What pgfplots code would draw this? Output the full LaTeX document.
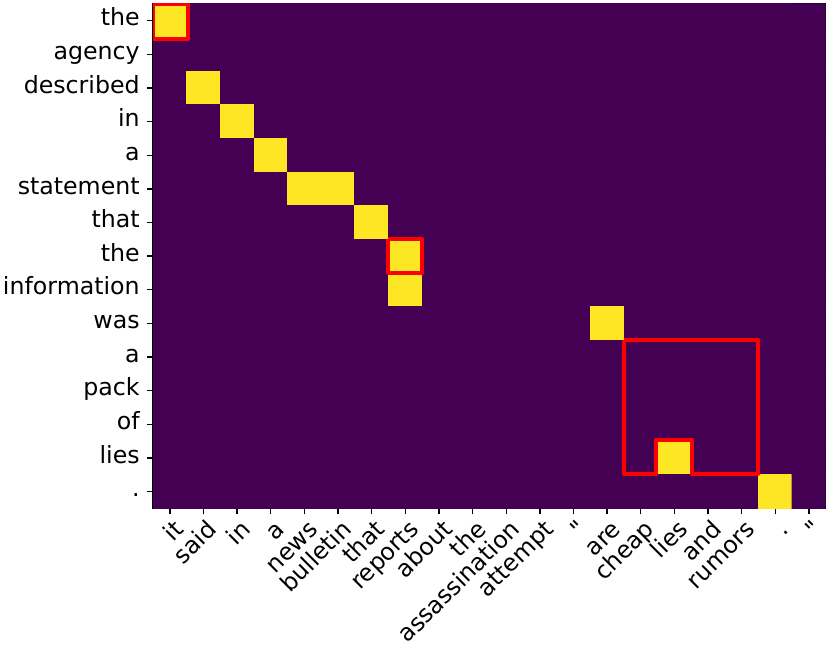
\documentclass[border=0pt]{standalone}
\usepackage{pgfplots}
\pgfplotsset{compat=1.18}
\usepackage{fontspec}
\setmainfont{DejaVu Sans}[Ligatures=TeXOff]
\definecolor{vpurple}{RGB}{68,1,84}
\definecolor{vyellow}{RGB}{253,231,37}
\begin{document}
\begin{tikzpicture}
\begin{axis}[
  scale only axis,
  width=336.5pt, height=252.5pt,
  xmin=-0.5, xmax=19.5, ymin=-0.5, ymax=14.5,
  y dir=reverse,
  axis background/.style={fill=vpurple},
  axis line style={line width=0.8pt, black},
  tick align=outside,
  xtick pos=left, ytick pos=left,
  major tick length=3pt,
  tick style={line width=0.7pt, black},
  xtick={0,...,19},
  ytick={0,...,14},
  xticklabels={it,said,in,a,news,bulletin,that,reports,about,the,assassination,attempt,{"},are,cheap,lies,and,rumors,.,{"}},
  yticklabels={the,agency,described,in,a,statement,that,the,information,was,a,pack,of,lies,.},
  ticklabel style={font=\fontsize{11.85}{14}\selectfont, inner sep=0pt, text height=0.76em, text depth=0.24em},
  xticklabel style={xshift=2pt, yshift=-2.5pt, rotate=45, anchor=north east},
  yticklabel style={xshift=-3.5pt, anchor=east},
  colormap={vir}{rgb255=(68,1,84) rgb255=(253,231,37)},
  point meta min=0, point meta max=1,
]
\addplot[matrix plot*, mesh/cols=20, point meta=explicit, shader=flat corner] coordinates {
(0,0)[1] (1,0)[0] (2,0)[0] (3,0)[0] (4,0)[0] (5,0)[0] (6,0)[0] (7,0)[0] (8,0)[0] (9,0)[0] (10,0)[0] (11,0)[0] (12,0)[0] (13,0)[0] (14,0)[0] (15,0)[0] (16,0)[0] (17,0)[0] (18,0)[0] (19,0)[0]
(0,1)[0] (1,1)[0] (2,1)[0] (3,1)[0] (4,1)[0] (5,1)[0] (6,1)[0] (7,1)[0] (8,1)[0] (9,1)[0] (10,1)[0] (11,1)[0] (12,1)[0] (13,1)[0] (14,1)[0] (15,1)[0] (16,1)[0] (17,1)[0] (18,1)[0] (19,1)[0]
(0,2)[0] (1,2)[1] (2,2)[0] (3,2)[0] (4,2)[0] (5,2)[0] (6,2)[0] (7,2)[0] (8,2)[0] (9,2)[0] (10,2)[0] (11,2)[0] (12,2)[0] (13,2)[0] (14,2)[0] (15,2)[0] (16,2)[0] (17,2)[0] (18,2)[0] (19,2)[0]
(0,3)[0] (1,3)[0] (2,3)[1] (3,3)[0] (4,3)[0] (5,3)[0] (6,3)[0] (7,3)[0] (8,3)[0] (9,3)[0] (10,3)[0] (11,3)[0] (12,3)[0] (13,3)[0] (14,3)[0] (15,3)[0] (16,3)[0] (17,3)[0] (18,3)[0] (19,3)[0]
(0,4)[0] (1,4)[0] (2,4)[0] (3,4)[1] (4,4)[0] (5,4)[0] (6,4)[0] (7,4)[0] (8,4)[0] (9,4)[0] (10,4)[0] (11,4)[0] (12,4)[0] (13,4)[0] (14,4)[0] (15,4)[0] (16,4)[0] (17,4)[0] (18,4)[0] (19,4)[0]
(0,5)[0] (1,5)[0] (2,5)[0] (3,5)[0] (4,5)[1] (5,5)[1] (6,5)[0] (7,5)[0] (8,5)[0] (9,5)[0] (10,5)[0] (11,5)[0] (12,5)[0] (13,5)[0] (14,5)[0] (15,5)[0] (16,5)[0] (17,5)[0] (18,5)[0] (19,5)[0]
(0,6)[0] (1,6)[0] (2,6)[0] (3,6)[0] (4,6)[0] (5,6)[0] (6,6)[1] (7,6)[0] (8,6)[0] (9,6)[0] (10,6)[0] (11,6)[0] (12,6)[0] (13,6)[0] (14,6)[0] (15,6)[0] (16,6)[0] (17,6)[0] (18,6)[0] (19,6)[0]
(0,7)[0] (1,7)[0] (2,7)[0] (3,7)[0] (4,7)[0] (5,7)[0] (6,7)[0] (7,7)[1] (8,7)[0] (9,7)[0] (10,7)[0] (11,7)[0] (12,7)[0] (13,7)[0] (14,7)[0] (15,7)[0] (16,7)[0] (17,7)[0] (18,7)[0] (19,7)[0]
(0,8)[0] (1,8)[0] (2,8)[0] (3,8)[0] (4,8)[0] (5,8)[0] (6,8)[0] (7,8)[1] (8,8)[0] (9,8)[0] (10,8)[0] (11,8)[0] (12,8)[0] (13,8)[0] (14,8)[0] (15,8)[0] (16,8)[0] (17,8)[0] (18,8)[0] (19,8)[0]
(0,9)[0] (1,9)[0] (2,9)[0] (3,9)[0] (4,9)[0] (5,9)[0] (6,9)[0] (7,9)[0] (8,9)[0] (9,9)[0] (10,9)[0] (11,9)[0] (12,9)[0] (13,9)[1] (14,9)[0] (15,9)[0] (16,9)[0] (17,9)[0] (18,9)[0] (19,9)[0]
(0,10)[0] (1,10)[0] (2,10)[0] (3,10)[0] (4,10)[0] (5,10)[0] (6,10)[0] (7,10)[0] (8,10)[0] (9,10)[0] (10,10)[0] (11,10)[0] (12,10)[0] (13,10)[0] (14,10)[0] (15,10)[0] (16,10)[0] (17,10)[0] (18,10)[0] (19,10)[0]
(0,11)[0] (1,11)[0] (2,11)[0] (3,11)[0] (4,11)[0] (5,11)[0] (6,11)[0] (7,11)[0] (8,11)[0] (9,11)[0] (10,11)[0] (11,11)[0] (12,11)[0] (13,11)[0] (14,11)[0] (15,11)[0] (16,11)[0] (17,11)[0] (18,11)[0] (19,11)[0]
(0,12)[0] (1,12)[0] (2,12)[0] (3,12)[0] (4,12)[0] (5,12)[0] (6,12)[0] (7,12)[0] (8,12)[0] (9,12)[0] (10,12)[0] (11,12)[0] (12,12)[0] (13,12)[0] (14,12)[0] (15,12)[0] (16,12)[0] (17,12)[0] (18,12)[0] (19,12)[0]
(0,13)[0] (1,13)[0] (2,13)[0] (3,13)[0] (4,13)[0] (5,13)[0] (6,13)[0] (7,13)[0] (8,13)[0] (9,13)[0] (10,13)[0] (11,13)[0] (12,13)[0] (13,13)[0] (14,13)[0] (15,13)[1] (16,13)[0] (17,13)[0] (18,13)[0] (19,13)[0]
(0,14)[0] (1,14)[0] (2,14)[0] (3,14)[0] (4,14)[0] (5,14)[0] (6,14)[0] (7,14)[0] (8,14)[0] (9,14)[0] (10,14)[0] (11,14)[0] (12,14)[0] (13,14)[0] (14,14)[0] (15,14)[0] (16,14)[0] (17,14)[0] (18,14)[1] (19,14)[0]
};
% red highlight boxes
\addplot[red, line width=2pt, line join=round] coordinates {(-0.5,-0.5) (0.55,-0.5) (0.55,0.55) (-0.5,0.55) (-0.5,-0.5)};
\addplot[red, line width=2pt, line join=round] coordinates {(6.5,6.5) (7.5,6.5) (7.5,7.5) (6.5,7.5) (6.5,6.5)};
\addplot[red, line width=2pt, line join=round] coordinates {(13.5,9.5) (17.5,9.5) (17.5,13.47) (15.53,13.47) (15.53,12.45) (14.46,12.45) (14.46,13.47) (13.5,13.47) (13.5,9.5)};
\end{axis}
\path ([shift={(-1.5pt,-2pt)}]current bounding box.south west) ([shift={(2pt,1.5pt)}]current bounding box.north east);
\end{tikzpicture}
\end{document}
